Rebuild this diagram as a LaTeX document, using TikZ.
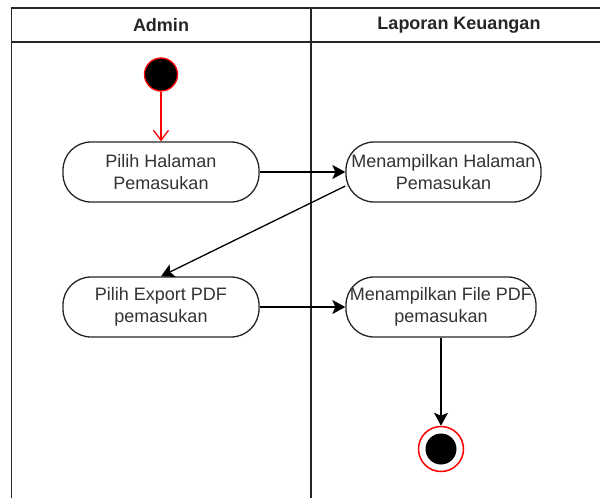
\documentclass[tikz,border=0pt]{standalone}
\usepackage{fontspec}
\setmainfont{Liberation Sans}
\usepackage{tikz}
\usetikzlibrary{arrows.meta}
\usetikzlibrary{positioning}

\begin{document}
\begin{tikzpicture}[x=1pt,y=-1pt,->,>={Stealth[length=13pt,width=14pt,inset=3pt]},line width=1.3pt,
    act/.style={draw=black!85,fill=white,rounded corners=28pt,minimum height=60pt,inner sep=2pt,align=center,text=black!80,font=\fontsize{18}{21.5}\selectfont},
    lane/.style={text=black!85,font=\bfseries\fontsize{18}{21.5}\selectfont}]

        \useasboundingbox (0,0) rectangle (600,498);

        % Swimlanes
        \draw[-,draw=black!85,line width=1.2pt] (11.5,520) -- (11.5,8) -- (607,8) -- (607,520);
        \draw[-,draw=black!85,line width=1.2pt] (11.5,42) -- (607,42);
        \draw[-,draw=black!85,line width=1.2pt] (311,8) -- (311,520);
        \node[lane] (Admin) at (161,25) {Admin};
        \node[lane] (Lap) at (459,25) {Laporan Keuangan};

        % Start and end
        \node[shape=circle,fill=black,draw=red,minimum size=33pt,inner sep=0pt] (Start) at (161,74.5) {};
        \node[shape=circle,fill=white,draw=red,line width=1.5pt,minimum size=45pt,inner sep=0pt] (End) at (441,449) {};
        \node[shape=circle,fill=black,minimum size=31pt,inner sep=0pt] (EndIn) at (End) {};

        % Admin actions
        \node[act,minimum width=196pt] (P1) at (161,172) {Pilih Halaman\\Pemasukan};
        \node[act,minimum width=196pt] (P2) at (161,307) {Pilih Export PDF\\pemasukan};

        % Laporan actions
        \node[act,minimum width=195pt] (M1) at (443.5,172) {Menampilkan Halaman\\Pemasukan};
        \node[act,minimum width=190pt] (M2) at (441,307) {Menampilkan File PDF\\pemasukan};

        % Arrows
        \draw[red,-{Straight Barb[length=10pt,width=15pt]}] (Start) -- (P1);
        \draw (P1) -- (M1);
        \draw ([yshift=-14pt]M1.west) -- (P2.north);
        \draw (P2) -- (M2);
        \draw (M2) -- (End);

\end{tikzpicture}
\end{document}
